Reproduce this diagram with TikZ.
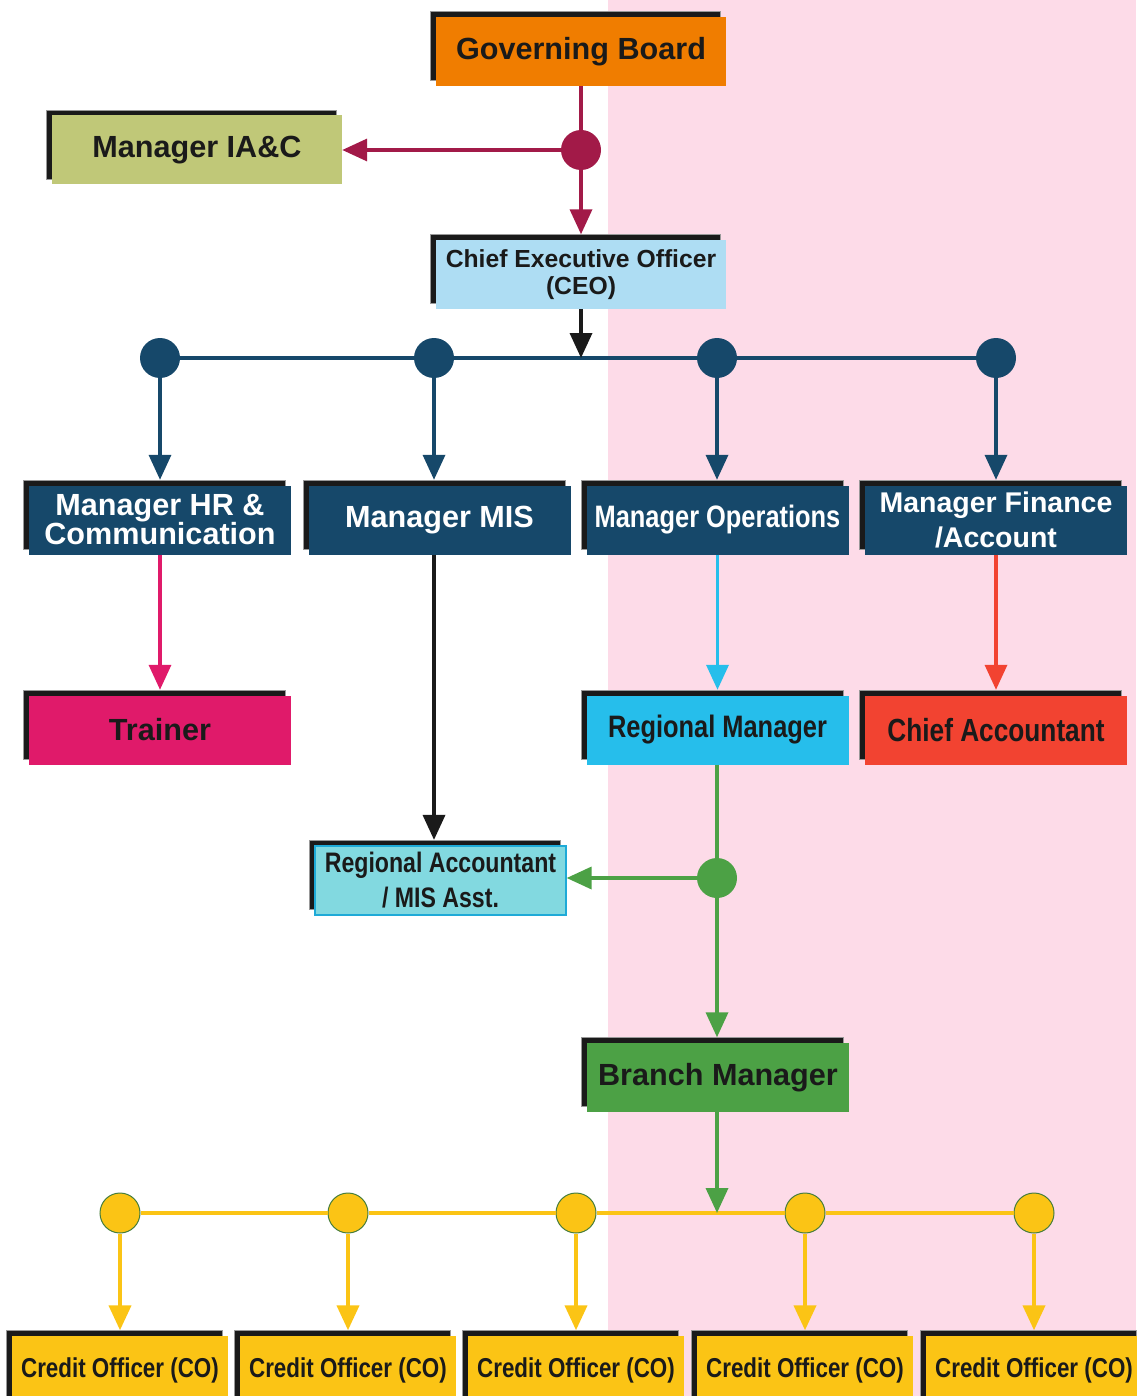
\documentclass[tikz,border=0pt]{standalone}
\usepackage{fontspec}
\setmainfont{Liberation Sans}
\newfontfamily\narrowsans[FakeStretch=0.82]{Liberation Sans}
\usetikzlibrary{positioning, arrows.meta, calc, shadows}
\definecolor{bgpink}{RGB}{253,219,232}
\definecolor{boardorange}{RGB}{240,125,0}
\definecolor{iagreen}{RGB}{192,200,120}
\definecolor{splitred}{RGB}{162,26,72}
\definecolor{ceoblue}{RGB}{174,221,243}
\definecolor{mgrnavy}{RGB}{22,72,106}
\definecolor{trainerpink}{RGB}{224,26,106}
\definecolor{opscyan}{RGB}{38,190,235}
\definecolor{chiefred}{RGB}{242,67,49}
\definecolor{regaccblue}{RGB}{130,217,224}
\definecolor{regaccedge}{RGB}{30,170,215}
\definecolor{branchgreen}{RGB}{76,161,69}
\definecolor{coyellow}{RGB}{251,196,21}
\definecolor{dotedge}{RGB}{70,125,60}
\definecolor{textblack}{RGB}{26,26,26}

\begin{document}
\begin{tikzpicture}[
    x=1pt, y=-1pt,
    orgbox/.style={
        rectangle, inner sep=0pt, minimum height=69pt,
        align=center, text=textblack,
        drop shadow={shadow xshift=-5.5pt, shadow yshift=5.5pt,
            fill=textblack, draw=gray!80, line width=0.8pt, opacity=1}
    },
    widebox/.style={orgbox, minimum width=290pt},
    mgrbox/.style={orgbox, minimum width=262pt},
    cobox/.style={orgbox, minimum width=216pt, fill=coyellow,
        font=\narrowsans\fontsize{27.3}{30}\selectfont\bfseries},
    bigtxt/.style={font=\fontsize{30.6}{29}\selectfont\bfseries},
    narrowtxt/.style={font=\narrowsans\fontsize{31}{35}\selectfont\bfseries},
    dot/.style={circle, inner sep=0pt, minimum size=40pt},
    tip/.style={-{Triangle[length=25pt, width=22pt]}, line width=3.5pt},
    down/.style={tip, shorten >=5.5pt},
    plain/.style={line width=3.5pt}
]
\useasboundingbox (0,0) rectangle (1136,1396);
\fill[bgpink] (608,0) rectangle (1136,1396);

% --- top: board, IA&C, CEO ---
\node[widebox, bigtxt, fill=boardorange] (board) at (581,51.5) {Governing Board};
\node[widebox, bigtxt, fill=iagreen]     (iac)   at (197,150) {Manager IA\&C};
\node[widebox, fill=ceoblue, font=\fontsize{24.7}{27}\selectfont\bfseries]
    (ceo) at (581,274.5) {Chief Executive Officer\\(CEO)};
\node[dot, fill=splitred] (split) at (581,150) {};

\draw[plain, splitred] (board) -- (split);
\draw[tip, splitred] (split) -- (iac);
\draw[down, splitred] (split) -- (ceo);

% --- managers ---
\node[mgrbox, bigtxt, fill=mgrnavy, text=white] (hr)  at (160,520) {Manager HR \&\\Communication};
\node[mgrbox, bigtxt, fill=mgrnavy, text=white] (mis) at (439.5,520) {Manager MIS};
\node[mgrbox, narrowtxt, fill=mgrnavy, text=white] (ops) at (717.5,520) {Manager Operations};
\node[mgrbox, fill=mgrnavy, text=white, font=\fontsize{28.5}{35}\selectfont\bfseries]
    (fin) at (996,520) {Manager Finance\\/Account};

\coordinate (ceojoin) at (581,358);
\node[dot, fill=mgrnavy] (dhr)  at (160,358) {};
\node[dot, fill=mgrnavy] (dmis) at (434,358) {};
\node[dot, fill=mgrnavy] (dops) at (717,358) {};
\node[dot, fill=mgrnavy] (dfin) at (996,358) {};

\draw[plain, mgrnavy] (dhr) -- (dmis) -- (dops) -- (dfin);
\draw[tip, textblack] (ceo) -- (ceojoin);
\foreach \d/\b in {dhr/hr, dmis/mis, dops/ops, dfin/fin}
    \draw[down, mgrnavy] (\d) -- (\d |- \b.north);

% --- third row ---
\node[mgrbox, bigtxt, fill=trainerpink] (trainer) at (160,730) {Trainer};
\node[mgrbox, narrowtxt, fill=opscyan]  (regmgr)  at (717.5,730) {Regional Manager};
\node[mgrbox, narrowtxt, fill=chiefred, font=\narrowsans\fontsize{32}{35}\selectfont\bfseries]
    (chiefacc) at (996,730) {Chief Accountant};

\draw[down, trainerpink] (hr) -- (trainer);
\draw[down, opscyan] (ops) -- (regmgr);
\draw[down, chiefred] (fin) -- (chiefacc);

% --- regional accountant, branch ---
\node[orgbox, minimum width=251pt, fill=regaccblue, draw=regaccedge, line width=1.2pt,
    font=\narrowsans\fontsize{28.2}{35}\selectfont\bfseries]
    (regacc) at (440.5,880.5) {Regional Accountant\\/ MIS Asst.};
\node[mgrbox, bigtxt, fill=branchgreen] (branch) at (718,1077.5) {Branch Manager};
\node[dot, fill=branchgreen] (gsplit) at (717,878) {};

\draw[down, textblack] (dmis |- mis.south) -- (dmis |- regacc.north);
\draw[plain, branchgreen] (gsplit |- regmgr.south) -- (gsplit);
\draw[tip, branchgreen] (gsplit) -- (gsplit -| regacc.east);
\draw[down, branchgreen] (gsplit) -- (gsplit |- branch.north);

% --- credit officers ---
\coordinate (cojoin) at (717,1213);
\foreach \x [count=\i] in {120,348,576,805,1034} {
    \node[dot, fill=coyellow, draw=dotedge, line width=1pt] (dco\i) at (\x,1213) {};
    \node[cobox] (co\i) at (\x,1370.5) {Credit Officer (CO)};
    \draw[down, coyellow, line width=4pt] (dco\i) -- (dco\i |- co\i.north);
}
\foreach \i/\j in {1/2, 2/3, 3/4, 4/5}
    \draw[plain, coyellow, line width=4pt] (dco\i) -- (dco\j);
\draw[tip, branchgreen] (gsplit |- branch.south) -- (cojoin);

\end{tikzpicture}
\end{document}
